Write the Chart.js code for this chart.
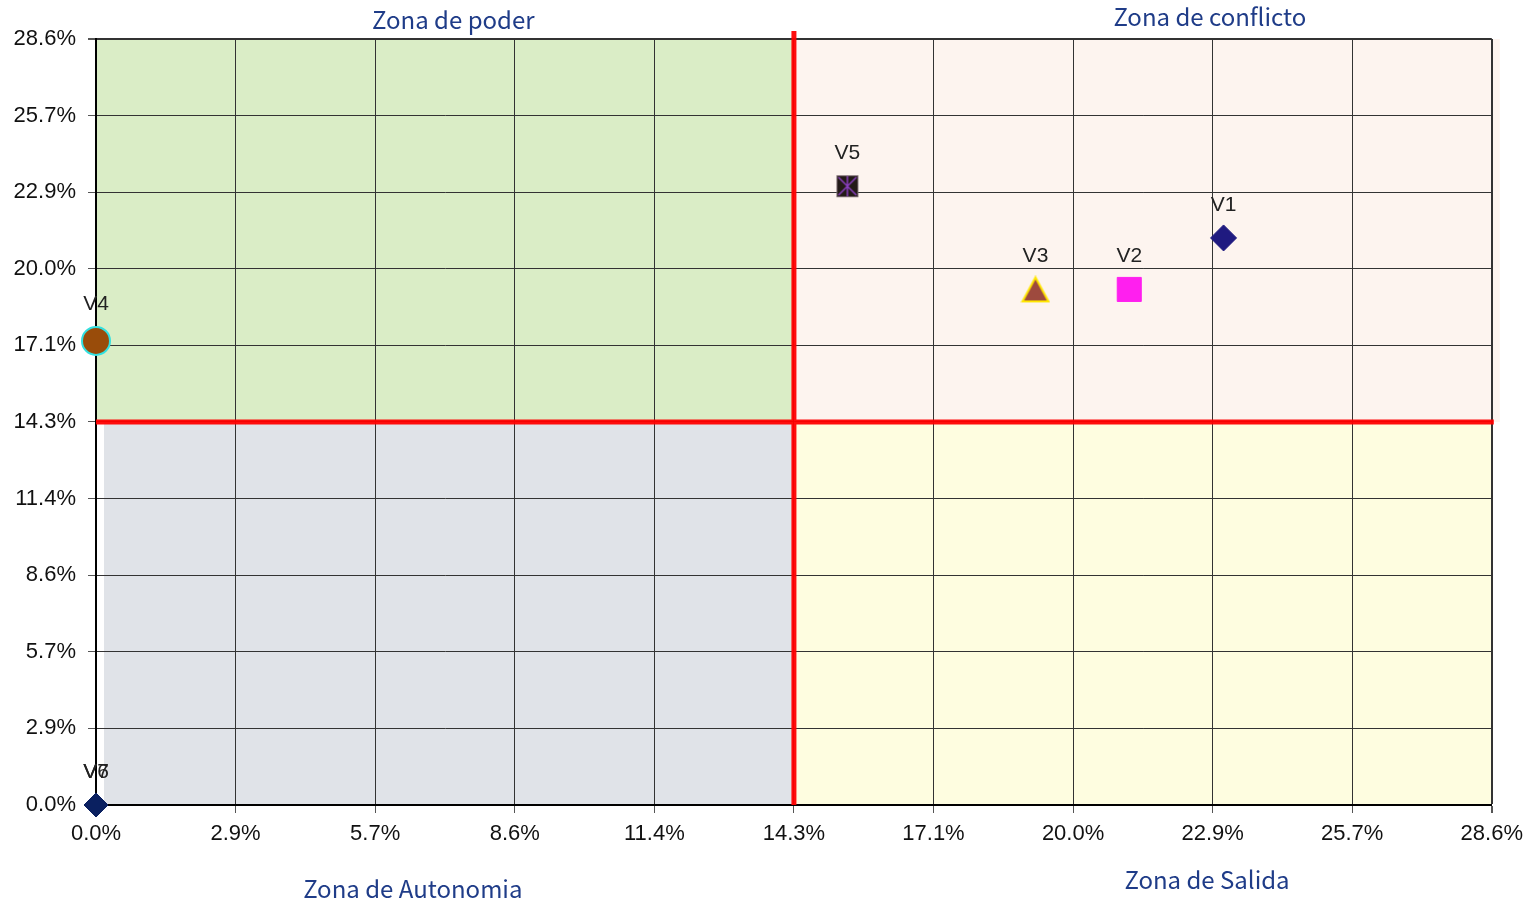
<!DOCTYPE html>
<html>
<head>
<meta charset="utf-8">
<script src="https://cdn.jsdelivr.net/npm/chart.js@4/dist/chart.umd.min.js"></script>
<style>
  html, body { margin: 0; padding: 0; background: #fff; }
  #wrap { width: 1531px; height: 904px; }
</style>
</head>
<body>
<div id="wrap"><canvas id="matriz"></canvas></div>
<script>
// datos (en %)
const variables = ['V1', 'V2', 'V3', 'V4', 'V5', 'V6', 'V7'];
const dependencia = [23.08, 21.15, 19.23, 0.0, 15.38, 0.0, 0.0];
const influencia = [21.15, 19.23, 19.23, 17.31, 23.08, 0.0, 0.0];
const tickLabels = ['0.0%', '2.9%', '5.7%', '8.6%', '11.4%', '14.3%', '17.1%', '20.0%', '22.9%', '25.7%', '28.6%'];
const zonas = ['Zona de poder', 'Zona de conflicto', 'Zona de Autonomia', 'Zona de Salida'];
const ejeMax = 28.571;
const corte = 14.286;

// marcador de V5: cuadro oscuro con asterisco
function marcaV5() {
    const c = document.createElement('canvas');
    c.width = 24; c.height = 24;
    const g = c.getContext('2d');
    g.fillStyle = '#231A17';
    g.fillRect(1, 1, 22, 22);
    g.strokeStyle = '#7a6a70';
    g.lineWidth = 1;
    g.strokeRect(1.5, 1.5, 21, 21);
    g.strokeStyle = '#8a3fc0';
    g.lineWidth = 1.5;
    g.beginPath();
    g.moveTo(12, 2); g.lineTo(12, 22);
    g.moveTo(3, 3); g.lineTo(21, 21);
    g.moveTo(21, 3); g.lineTo(3, 21);
    g.stroke();
    return c;
}

// marcador de V3: triangulo centrado en su caja
function marcaV3() {
    const c = document.createElement('canvas');
    c.width = 30; c.height = 28;
    const g = c.getContext('2d');
    g.fillStyle = '#9E4A3E';
    g.strokeStyle = '#FFE600';
    g.lineWidth = 2;
    g.beginPath();
    g.moveTo(15, 2); g.lineTo(28, 26); g.lineTo(2, 26); g.closePath();
    g.fill();
    g.stroke();
    return c;
}

const estilos = [
    { pointStyle: 'rectRot', radius: 13, bg: '#1F1A80', border: '#1F1A80', bw: 1 },
    { pointStyle: 'rect', radius: 17, bg: '#FF1FEF', border: '#FF1FEF', bw: 1 },
    { pointStyle: marcaV3(), radius: 14, bg: '#9E4A3E', border: '#FFE600', bw: 2 },
    { pointStyle: 'circle', radius: 14, bg: '#994C0A', border: '#33E0E0', bw: 2 },
    { pointStyle: marcaV5(), radius: 12, bg: '#231A17', border: '#231A17', bw: 1 },
    { pointStyle: 'rectRot', radius: 12, bg: '#0A2060', border: '#0A2060', bw: 1 },
    { pointStyle: 'rectRot', radius: 12, bg: '#0A2060', border: '#0A2060', bw: 1 }
];

const datasets = variables.map((v, i) => ({
    label: v,
    data: [{ x: dependencia[i], y: influencia[i] }],
    pointStyle: estilos[i].pointStyle,
    pointRadius: estilos[i].radius,
    pointHoverRadius: estilos[i].radius,
    backgroundColor: estilos[i].bg,
    borderColor: estilos[i].border,
    borderWidth: estilos[i].bw,
    clip: false
}));

// fondos de cuadrantes, lineas rojas, etiquetas y titulos de zona
const cuadrantes = {
    id: 'cuadrantes',
    beforeDraw(chart) {
        const { ctx, scales: { x, y } } = chart;
        const x0 = x.getPixelForValue(0), x1 = x.getPixelForValue(corte), x2 = x.getPixelForValue(ejeMax);
        const y0 = y.getPixelForValue(0), y1 = y.getPixelForValue(corte), y2 = y.getPixelForValue(ejeMax);
        ctx.save();
        ctx.fillStyle = '#DAEDC6';
        ctx.fillRect(x0, y2, x1 - x0, y1 - y2);
        ctx.fillStyle = '#FDF4EF';
        ctx.fillRect(x1, y2, x2 - x1 + 8, y1 - y2);
        ctx.fillStyle = '#E0E3E8';
        ctx.fillRect(x0 + 8, y1, x1 - x0 - 8, y0 - y1);
        ctx.fillStyle = '#FEFDE0';
        ctx.fillRect(x1, y1, x2 - x1, y0 - y1);
        ctx.restore();
    },
    beforeDatasetsDraw(chart) {
        const { ctx, scales: { x, y } } = chart;
        const xc = x.getPixelForValue(corte), yc = y.getPixelForValue(corte);
        ctx.save();
        ctx.strokeStyle = 'rgba(255,0,0,0.95)';
        ctx.lineWidth = 5;
        ctx.beginPath();
        ctx.moveTo(xc, y.getPixelForValue(ejeMax) - 8);
        ctx.lineTo(xc, y.getPixelForValue(0));
        ctx.moveTo(x.getPixelForValue(0), yc);
        ctx.lineTo(x.getPixelForValue(ejeMax) + 2, yc);
        ctx.stroke();
        ctx.restore();
    },
    afterDatasetsDraw(chart) {
        const { ctx, chartArea } = chart;
        ctx.save();
        ctx.font = '21px "Liberation Sans", Arial, sans-serif';
        ctx.fillStyle = '#222';
        ctx.textAlign = 'center';
        ctx.textBaseline = 'middle';
        chart.data.datasets.forEach((ds, i) => {
            const p = chart.getDatasetMeta(i).data[0];
            ctx.fillText(ds.label, p.x, p.y - (i === 3 ? 37 : 33));
        });
        ctx.font = '24px "Noto Sans CJK JP", "Noto Sans", sans-serif';
        ctx.fillStyle = '#1F3C88';
        const { left, right, top, bottom } = chartArea;
        const w = right - left;
        ctx.fillText(zonas[0], left + w * 0.256, top - 19);
        ctx.fillText(zonas[1], left + w * 0.798, top - 22);
        ctx.fillText(zonas[2], left + w * 0.227, bottom + 84);
        ctx.fillText(zonas[3], left + w * 0.796, bottom + 75);
        ctx.restore();
    }
};

function fijarTicks(scale) {
    scale.ticks = tickLabels.map((t, i) => ({ value: ejeMax * i / (tickLabels.length - 1) }));
}

const colorGrid = (c) => '#333';

new Chart(document.getElementById('matriz'), {
    type: 'scatter',
    data: { datasets: datasets },
    plugins: [cuadrantes],
    options: {
        responsive: true,
        maintainAspectRatio: false,
        animation: false,
        layout: { padding: { top: 39, right: 39, left: 0, bottom: 0 } },
        plugins: {
            legend: { display: false },
            tooltip: { enabled: false }
        },
        scales: {
            x: {
                type: 'linear',
                min: 0,
                max: ejeMax,
                afterBuildTicks: fijarTicks,
                afterFit(scale) { scale.height = 99; },
                ticks: {
                    autoSkip: false,
                    maxRotation: 0,
                    color: '#111',
                    font: { family: '"Liberation Sans", Arial, sans-serif', size: 22 },
                    padding: 8,
                    callback: (v, i) => tickLabels[i]
                },
                grid: {
                    color: colorGrid,
                    lineWidth: (c) => c.index === tickLabels.length - 1 ? 2 : 1,
                    tickLength: 8,
                    tickColor: '#555'
                },
                border: { color: '#000', width: 2 }
            },
            y: {
                type: 'linear',
                min: 0,
                max: ejeMax,
                afterBuildTicks: fijarTicks,
                afterFit(scale) { scale.width = 96; },
                ticks: {
                    autoSkip: false,
                    color: '#111',
                    font: { family: '"Liberation Sans", Arial, sans-serif', size: 22 },
                    padding: 12,
                    callback: (v, i) => tickLabels[i]
                },
                grid: {
                    color: colorGrid,
                    lineWidth: (c) => c.index === tickLabels.length - 1 ? 2 : 1,
                    tickLength: 8,
                    tickColor: '#555'
                },
                border: { color: '#000', width: 2 }
            }
        }
    }
});
</script>
</body>
</html>
